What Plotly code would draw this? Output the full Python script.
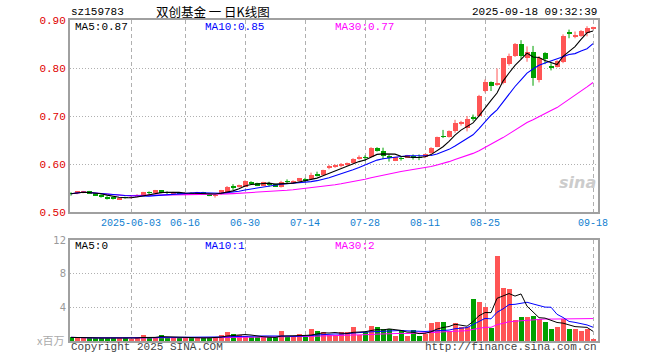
import plotly.graph_objects as go
import pandas as pd

# ---------------- data ----------------
dates = [
    "2025-05-19", "2025-05-20", "2025-05-21", "2025-05-22", "2025-05-23",
    "2025-05-26", "2025-05-27", "2025-05-28", "2025-05-29", "2025-05-30",
    "2025-06-03", "2025-06-04", "2025-06-05", "2025-06-06", "2025-06-09",
    "2025-06-10", "2025-06-11", "2025-06-12", "2025-06-13", "2025-06-16",
    "2025-06-17", "2025-06-18", "2025-06-19", "2025-06-20", "2025-06-23",
    "2025-06-24", "2025-06-25", "2025-06-26", "2025-06-27", "2025-06-30",
    "2025-07-01", "2025-07-02", "2025-07-03", "2025-07-04", "2025-07-07",
    "2025-07-08", "2025-07-09", "2025-07-10", "2025-07-11", "2025-07-14",
    "2025-07-15", "2025-07-16", "2025-07-17", "2025-07-18", "2025-07-21",
    "2025-07-22", "2025-07-23", "2025-07-24", "2025-07-25", "2025-07-28",
    "2025-07-29", "2025-07-30", "2025-07-31", "2025-08-01", "2025-08-04",
    "2025-08-05", "2025-08-06", "2025-08-07", "2025-08-08", "2025-08-11",
    "2025-08-12", "2025-08-13", "2025-08-14", "2025-08-15", "2025-08-18",
    "2025-08-19", "2025-08-20", "2025-08-21", "2025-08-22", "2025-08-25",
    "2025-08-26", "2025-08-27", "2025-08-28", "2025-08-29", "2025-09-01",
    "2025-09-02", "2025-09-03", "2025-09-04", "2025-09-05", "2025-09-08",
    "2025-09-09", "2025-09-10", "2025-09-11", "2025-09-12", "2025-09-15",
    "2025-09-16", "2025-09-17", "2025-09-18",
]

open_ = [
    0.539, 0.540, 0.541, 0.543, 0.539, 0.536, 0.532, 0.530, 0.527, 0.531,
    0.530, 0.532, 0.536, 0.541, 0.541, 0.545, 0.541, 0.539, 0.539, 0.538,
    0.539, 0.538, 0.540, 0.538, 0.534, 0.537, 0.541, 0.553, 0.553, 0.553,
    0.563, 0.560, 0.555, 0.559, 0.558, 0.553, 0.564, 0.562, 0.564, 0.567,
    0.568, 0.577, 0.577, 0.593, 0.595, 0.596, 0.597, 0.602, 0.610, 0.614,
    0.615, 0.634, 0.627, 0.617, 0.607, 0.612, 0.614, 0.617, 0.614, 0.614,
    0.622, 0.636, 0.658, 0.657, 0.668, 0.684, 0.675, 0.697, 0.700, 0.752,
    0.771, 0.765, 0.768, 0.808, 0.825, 0.851, 0.820, 0.834, 0.776, 0.832,
    0.804, 0.803, 0.812, 0.874, 0.865, 0.867, 0.873, 0.882,
]
high = [
    0.541, 0.543, 0.544, 0.544, 0.540, 0.537, 0.533, 0.532, 0.531, 0.532,
    0.533, 0.537, 0.542, 0.543, 0.546, 0.545, 0.543, 0.542, 0.541, 0.541,
    0.541, 0.542, 0.542, 0.539, 0.537, 0.546, 0.554, 0.558, 0.557, 0.566,
    0.564, 0.561, 0.563, 0.563, 0.559, 0.565, 0.568, 0.566, 0.571, 0.571,
    0.582, 0.584, 0.588, 0.598, 0.599, 0.602, 0.603, 0.612, 0.618, 0.618,
    0.635, 0.635, 0.634, 0.620, 0.615, 0.615, 0.619, 0.620, 0.620, 0.621,
    0.635, 0.657, 0.671, 0.670, 0.692, 0.690, 0.700, 0.703, 0.744, 0.776,
    0.772, 0.799, 0.821, 0.830, 0.852, 0.858, 0.845, 0.846, 0.825, 0.833,
    0.810, 0.816, 0.870, 0.880, 0.876, 0.879, 0.887, 0.886,
]
low = [
    0.534, 0.537, 0.539, 0.538, 0.534, 0.530, 0.526, 0.526, 0.526, 0.528,
    0.528, 0.531, 0.535, 0.537, 0.540, 0.539, 0.537, 0.538, 0.536, 0.535,
    0.536, 0.537, 0.536, 0.533, 0.530, 0.536, 0.540, 0.545, 0.551, 0.552,
    0.558, 0.554, 0.554, 0.553, 0.553, 0.551, 0.559, 0.559, 0.563, 0.562,
    0.567, 0.574, 0.576, 0.589, 0.592, 0.593, 0.596, 0.601, 0.609, 0.606,
    0.614, 0.626, 0.610, 0.605, 0.606, 0.607, 0.613, 0.609, 0.608, 0.612,
    0.621, 0.635, 0.654, 0.655, 0.665, 0.680, 0.668, 0.690, 0.698, 0.749,
    0.752, 0.763, 0.766, 0.805, 0.823, 0.818, 0.813, 0.763, 0.770, 0.808,
    0.795, 0.801, 0.810, 0.862, 0.862, 0.865, 0.866, 0.880,
]
close = [
    0.538, 0.542, 0.543, 0.539, 0.535, 0.531, 0.528, 0.529, 0.530, 0.530,
    0.531, 0.536, 0.541, 0.540, 0.545, 0.540, 0.540, 0.541, 0.538, 0.539,
    0.538, 0.541, 0.539, 0.535, 0.535, 0.545, 0.553, 0.552, 0.556, 0.565,
    0.560, 0.556, 0.562, 0.558, 0.554, 0.563, 0.563, 0.563, 0.570, 0.566,
    0.578, 0.576, 0.587, 0.595, 0.596, 0.601, 0.602, 0.611, 0.615, 0.613,
    0.634, 0.627, 0.616, 0.612, 0.614, 0.611, 0.618, 0.613, 0.613, 0.620,
    0.634, 0.656, 0.657, 0.669, 0.685, 0.686, 0.693, 0.695, 0.742, 0.771,
    0.762, 0.769, 0.820, 0.826, 0.851, 0.824, 0.834, 0.780, 0.821, 0.818,
    0.802, 0.814, 0.866, 0.872, 0.869, 0.877, 0.883, 0.885,
]
# volume, in millions (x百万)
volume = [
    0.43, 0.36, 0.36, 0.36, 0.36, 0.36, 0.36, 0.36, 0.36, 0.36,
    0.20, 0.51, 0.67, 0.36, 0.40, 0.67, 0.36, 0.43, 0.36, 0.36,
    0.36, 0.36, 0.40, 0.40, 0.43, 0.72, 1.03, 0.83, 0.67, 0.59,
    0.43, 0.43, 0.43, 0.43, 0.43, 1.19, 0.43, 0.43, 0.83, 0.43,
    1.39, 1.19, 1.03, 0.71, 0.71, 1.03, 1.03, 1.66, 0.75, 1.03,
    1.74, 1.62, 1.39, 1.39, 0.59, 1.31, 0.59, 1.31, 0.59, 0.79,
    2.14, 2.26, 2.26, 1.15, 2.14, 1.62, 1.62, 4.99, 4.63, 4.04,
    1.58, 10.10, 6.29, 6.18, 2.53, 2.85, 2.85, 2.97, 2.65, 2.26,
    1.46, 1.66, 2.57, 1.43, 1.43, 1.23, 1.43, 0.24,
]

price_ticks = [0.50, 0.60, 0.70, 0.80, 0.90]
price_tick_text = ["0.50", "0.60", "0.70", "0.80", "0.90"]
vol_ticks = [4, 8, 12]
vol_tick_text = ["4", "8", "12"]
date_ticks = ["2025-06-03", "2025-06-16", "2025-06-30", "2025-07-14",
              "2025-07-28", "2025-08-11", "2025-08-25", "2025-09-18"]
date_tick_text = ["2025-06-03", "06-16", "06-30", "07-14",
                  "07-28", "08-11", "08-25", "09-18"]

title_code = "sz159783"
title_text = "双创基金 一 日K线图"
timestamp = "2025-09-18 09:32:39"
price_legend = ["MA5:0.87", "MA10:0.85", "MA30:0.77"]
vol_legend = ["MA5:0", "MA10:1", "MA30:2"]

# ---------------- styling ----------------
W, H = 660, 360
RED = "#ff5555"
GREEN = "#00a000"
MONO = "Liberation Mono, DejaVu Sans Mono, monospace"
FRAME = "#a0a0a0"
GRID = "#b0b0b0"

up = [c >= o for o, c in zip(open_, close)]
colors = [RED if u else GREEN for u in up]

s_close = pd.Series(close)
ma5 = s_close.rolling(5, min_periods=1).mean()
ma10 = s_close.rolling(10, min_periods=1).mean()
ma30 = s_close.rolling(30, min_periods=1).mean()
s_vol = pd.Series(volume)
vma5 = s_vol.rolling(5, min_periods=1).mean()
vma10 = s_vol.rolling(10, min_periods=1).mean()
vma30 = s_vol.rolling(30, min_periods=1).mean()

fig = go.Figure()

# wicks
for want, col in ((True, RED), (False, GREEN)):
    wx, wy = [], []
    for d, h, l, u in zip(dates, high, low, up):
        if u == want:
            wx += [d, d, None]
            wy += [l, h, None]
    fig.add_trace(go.Scatter(x=wx, y=wy, mode="lines", line=dict(color=col, width=1),
                             hoverinfo="skip", xaxis="x", yaxis="y"))

# bodies
body_base = [min(o, c) for o, c in zip(open_, close)]
body_h = [max(abs(c - o), 0.0012) for o, c in zip(open_, close)]
fig.add_trace(go.Bar(x=dates, y=body_h, base=body_base, marker=dict(color=colors, line=dict(width=0)),
                     width=0.84, xaxis="x", yaxis="y"))

for ser, col in ((ma30, "#ff00ff"), (ma10, "#0000ff"), (ma5, "#000000")):
    fig.add_trace(go.Scatter(x=dates, y=ser, mode="lines", line=dict(color=col, width=1.1),
                             xaxis="x", yaxis="y"))

# volume
fig.add_trace(go.Bar(x=dates, y=volume, marker=dict(color=colors, line=dict(width=0)),
                     width=0.84, xaxis="x2", yaxis="y2"))
for ser, col in ((vma30, "#ff00ff"), (vma10, "#0000ff"), (vma5, "#000000")):
    fig.add_trace(go.Scatter(x=dates, y=ser, mode="lines", line=dict(color=col, width=1),
                             xaxis="x2", yaxis="y2"))

xdom = [70 / W, 598 / W]
xr = [-0.17, len(dates) - 1 + 0.83]
common_x = dict(type="category", categoryorder="array", categoryarray=dates, range=xr,
                domain=xdom, showgrid=True, gridcolor=GRID, griddash="4px,3px", gridwidth=1,
                tickvals=date_ticks, showline=True, mirror=True, linecolor=FRAME, linewidth=2,
                ticks="", zeroline=False, automargin=False, fixedrange=True, tickangle=0)

fig.update_layout(
    width=W, height=H, margin=dict(l=0, r=0, t=0, b=0),
    paper_bgcolor="white", plot_bgcolor="white", showlegend=False,
    barmode="overlay", bargap=0,
    xaxis=dict(common_x, anchor="y", ticktext=date_tick_text,
               tickfont=dict(family=MONO, size=10, color="#1080d0")),
    xaxis2=dict(common_x, anchor="y2", showticklabels=False),
    yaxis=dict(domain=[1 - 212 / H, 1 - 20 / H], range=[0.50, 0.90], tickvals=price_ticks,
               ticktext=price_tick_text, tickfont=dict(family=MONO, size=11, color="#e00000"),
               showgrid=True, gridcolor=GRID, griddash="1px,2px", showline=True, mirror=True,
               linecolor=FRAME, linewidth=2, ticks="", zeroline=False, automargin=False, anchor="x"),
    yaxis2=dict(domain=[1 - 341 / H, 1 - 240 / H], range=[0, 12], tickvals=vol_ticks,
                ticktext=vol_tick_text, tickfont=dict(family="DejaVu Sans", size=10, color="#999999"),
                showgrid=True, gridcolor=GRID, griddash="1px,2px", showline=True, mirror=True,
                linecolor=FRAME, linewidth=2, ticks="", zeroline=False, automargin=False, anchor="x2"),
)


def ann(text, px, py, color="#000000", xanchor="left", size=10, family=MONO, **kw):
    fig.add_annotation(text=text, x=px / W, y=1 - py / H, xref="paper", yref="paper",
                       xanchor=xanchor, yanchor="middle", showarrow=False,
                       font=dict(family=family, size=size, color=color), **kw)


ann(title_code, 69, 12, size=11)
ann(title_text, 213, 11, xanchor="center", size=12.5, family="Noto Sans CJK SC")
ann(timestamp, 599, 12, xanchor="right", size=11)
for txt, px, col in zip(price_legend, (73, 203, 333), ("#000000", "#0000ff", "#ff00ff")):
    ann(txt, px, 27, color=col, size=11)
for txt, px, col in zip(vol_legend, (73, 203, 333), ("#000000", "#0000ff", "#ff00ff")):
    ann(txt, px, 246, color=col, size=11)
ann("Copyright 2025 SINA.COM", 69, 347, color="#444444", size=11)
ann("http://finance.sina.com.cn", 599, 347, color="#444444", xanchor="right", size=11)
ann("x百万", 66, 340, color="#aaaaaa", xanchor="right", size=11, family="Noto Sans CJK SC")
ann("<b><i>sina</i></b>", 598, 182, color="#cccccc", xanchor="right", size=16, family="DejaVu Sans")

fig.write_html("out.html", config={"displayModeBar": False},
               post_script="document.body.style.margin='0';")
